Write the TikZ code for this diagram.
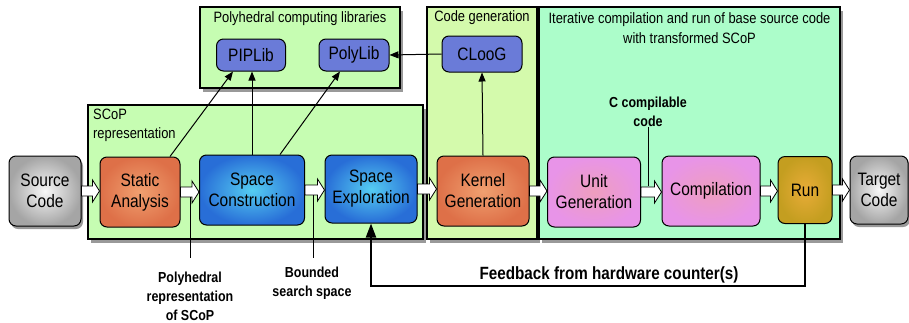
\documentclass[tikz,border=0pt]{standalone}
\usepackage{fontspec}
\setmainfont{Liberation Sans}
\newfontfamily\condfont{Liberation Sans}[FakeStretch=0.86]
\usetikzlibrary{shadows,arrows.meta,calc}
\definecolor{contgreen}{RGB}{198,253,178}
\definecolor{cggreen}{RGB}{212,250,172}
\definecolor{itgreen}{RGB}{172,253,202}
\definecolor{libblue}{RGB}{106,123,216}
\definecolor{blueout}{RGB}{40,110,215}
\definecolor{bluein}{RGB}{85,205,242}
\definecolor{orout}{RGB}{222,112,72}
\definecolor{orin}{RGB}{240,160,112}
\definecolor{pkout}{RGB}{232,148,232}
\definecolor{pkin}{RGB}{238,158,190}
\definecolor{runout}{RGB}{196,158,32}
\definecolor{runin}{RGB}{232,172,56}
\definecolor{grout}{RGB}{165,165,165}
\definecolor{grin}{RGB}{248,248,248}
\newcommand\blockarr[2]{%
  \draw[fill=white,line width=0.8pt,line join=miter] let \p1=(#1.east), \p2=(#2.west) in
    (\x1,\y1+5pt) -- (\x2-7pt,\y1+5pt) -- (\x2-7pt,\y1+11pt) -- (\x2,\y1) --
    (\x2-7pt,\y1-11pt) -- (\x2-7pt,\y1-5pt) -- (\x1,\y1-5pt) -- cycle;}
\begin{document}
\begin{tikzpicture}[x=1pt,y=-1pt,
  cont/.style={draw, line width=1.1pt, inner sep=0pt,
    drop shadow={shadow xshift=3pt,shadow yshift=-4pt,opacity=0.4,fill=black}},
  title/.style={font=\condfont\fontsize{15}{20}\selectfont, align=center, inner sep=0pt},
  box/.style={draw, line width=1pt, rounded corners=7pt, align=center, inner sep=1pt,
    font=\condfont\fontsize{18}{21}\selectfont},
  lib/.style={box, fill=libblue},
  bluebox/.style={box, inner color=bluein, outer color=blueout},
  orbox/.style={box, inner color=orin, outer color=orout},
  pkbox/.style={box, inner color=pkin, outer color=pkout},
  runbox/.style={box, inner color=runin, outer color=runout},
  grbox/.style={box, inner color=grin, outer color=grout,
    drop shadow={shadow xshift=2pt,shadow yshift=-3pt,opacity=0.4,fill=black}},
  lbl/.style={font=\condfont\bfseries\fontsize{14.5}{19}\selectfont, align=center, inner sep=0pt},
  conn/.style={line width=1pt, -{Triangle[length=9pt,width=7pt]}},
  tick/.style={line width=1pt},
  fbline/.style={line width=2pt, -{Triangle[length=14pt,width=10pt]}}
]
\useasboundingbox (0,0) rectangle (909,322);

% containers
\node[cont, fill=contgreen, minimum width=200pt, minimum height=81pt] (polybox) at (300,47.5) {};
\node[cont, fill=contgreen, minimum width=335pt, minimum height=134pt] (scopbox) at (255.5,172) {};
\node[cont, fill=cggreen, minimum width=110pt, minimum height=232pt] (cgbox) at (482,123) {};
\node[cont, fill=itgreen, minimum width=301pt, minimum height=232pt] (itbox) at (689.5,123) {};

% container titles
\node[title] (t1) at (300,19) {Polyhedral computing libraries};
\node[title] (t2) at (482,18) {Code generation};
\node[title] (t3) at (689.5,28) {Iterative compilation and run of base source code\\with transformed SCoP};
\node[title, align=left, anchor=north west, font=\condfont\fontsize{15}{19}\selectfont] (t4) at (93,109) {SCoP\\representation};

% top nodes
\node[lib, minimum width=69pt, minimum height=32pt] (pip) at (251,55) {PIPLib};
\node[lib, minimum width=70pt, minimum height=32pt] (poly) at (354,55) {PolyLib};
\node[lib, minimum width=80pt, minimum height=36pt] (cloog) at (482,54) {CLooG};

% bottom row
\node[grbox, minimum width=72pt, minimum height=70pt] (src) at (45,191) {Source\\Code};
\node[orbox, minimum width=80pt, minimum height=70pt] (sa) at (140,192) {Static\\Analysis};
\node[bluebox, minimum width=105pt, minimum height=70pt] (sc) at (252,190) {Space\\Construction};
\node[bluebox, minimum width=92pt, minimum height=68pt] (se) at (371,189) {Space\\Exploration};
\node[orbox, minimum width=92pt, minimum height=70pt] (kg) at (483,191) {Kernel\\Generation};
\node[pkbox, minimum width=93pt, minimum height=70pt] (ug) at (594,192) {Unit\\Generation};
\node[pkbox, minimum width=98pt, minimum height=70pt] (comp) at (711,191) {Compilation};
\node[runbox, minimum width=54pt, minimum height=67pt] (run) at (805,190) {Run};
\node[grbox, minimum width=58pt, minimum height=68pt] (tgt) at (879,190) {Target\\Code};

% block arrows
\blockarr{src}{sa}
\blockarr{sa}{sc}
\blockarr{sc}{se}
\blockarr{se}{kg}
\blockarr{kg}{ug}
\blockarr{ug}{comp}
\blockarr{comp}{run}
\blockarr{run}{tgt}

% connectors to libraries
\draw[conn] ([xshift=30pt]sa.north) -- ([xshift=-18pt]pip.south);
\draw[conn] (sc.north) -- (sc.north |- pip.south);
\draw[conn] ([xshift=28pt]sc.north) -- ([xshift=-14pt]poly.south);
\draw[conn] (cloog.west) -- (poly.east);
\draw[conn] (kg.north) -- (cloog.south);

% labels
\node[lbl] (ccode) at (648,112) {C compilable\\code};
\coordinate (ccend) at (648,186);
\draw[tick] (ccode.south) -- (ccend);

\node[lbl] (polyrep) at (190,296) {Polyhedral\\representation\\of SCoP};
\coordinate (prstart) at (190,197);
\draw[tick] (prstart) -- (polyrep.north |- 0,258);

\node[lbl] (bss) at (312,283) {Bounded\\search space};
\coordinate (bsstart) at (313,195);
\draw[tick] (bsstart) -- (bsstart |- 0,258);

% feedback
\node[font=\condfont\bfseries\fontsize{17.7}{18}\selectfont, inner sep=0pt] (fbtext) at (609,275) {Feedback from hardware counter(s)};
\coordinate (fb) at (0,286);
\draw[fbline] (run.south) |- (fb -| se.south) -- (se.south);
\end{tikzpicture}
\end{document}
